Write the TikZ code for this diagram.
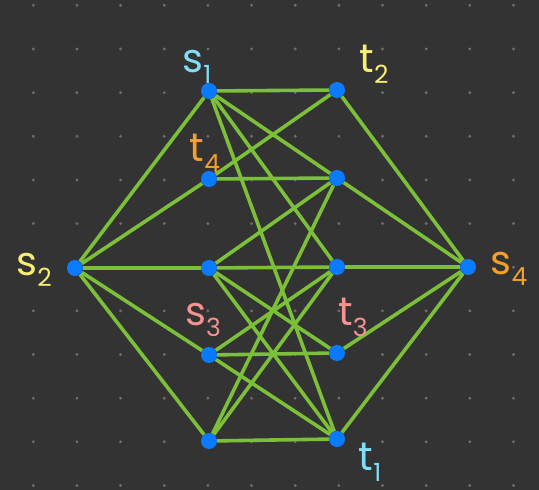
\documentclass[tikz,border=0pt]{standalone}
\usepackage{fontspec}
\setmainfont{Poppins}
\usepackage{tikz}
\usetikzlibrary{positioning}

\definecolor{bgdark}{HTML}{333333}
\definecolor{griddot}{HTML}{6E6E6E}
\definecolor{edgegreen}{HTML}{7CC03A}
\definecolor{vertblue}{HTML}{0A7BFF}
\definecolor{lblcyan}{HTML}{80DDF5}
\definecolor{lblyellow}{HTML}{F6EE72}
\definecolor{lblorange}{HTML}{F5A025}
\definecolor{lblpink}{HTML}{F59292}

% letter with a lowered index
\newcommand\lab[2]{#1\raisebox{-0.28em}{\fontsize{25}{25}\selectfont #2}}

\begin{document}
\begin{tikzpicture}[x=1pt,y=-1pt,
    vert/.style={circle,fill=vertblue,inner sep=0pt,minimum size=16pt},
    edge/.style={draw=edgegreen,line width=3.6pt},
    lbl/.style={inner sep=0pt,font=\fontsize{40}{40}\selectfont}]
  % dark canvas with dotted grid
  \fill[bgdark] (0,0) rectangle (539,490);
  \foreach \i in {0,...,11}
    \foreach \j in {0,...,11}
      \fill[griddot] (33.3+43.65*\i, 5.3+43.65*\j) circle (1.6);
  % vertices
  \node[vert] (s1) at (209,91)  {};
  \node[vert] (t2) at (337,90)  {};
  \node[vert] (t4) at (209,179) {};
  \node[vert] (u1) at (337,178) {};
  \node[vert] (s2) at (75,268)  {};
  \node[vert] (u2) at (209,268) {};
  \node[vert] (u3) at (337,267) {};
  \node[vert] (s4) at (468,267) {};
  \node[vert] (s3) at (209,355) {};
  \node[vert] (t3) at (337,353) {};
  \node[vert] (u4) at (209,441) {};
  \node[vert] (t1) at (337,439) {};
  % edges
  \foreach \a/\b in {s2/s1,s2/t4,s2/u2,s2/s3,s2/u4,
                     s1/t2,s1/u1,s1/u3,s1/t1,
                     t2/t4,t2/s4,t4/u1,
                     u1/u2,u1/s4,u1/u4,
                     u2/u3,u2/t3,u2/t1,
                     u3/s4,u3/s3,u3/u4,
                     s3/t3,s3/t1,t3/s4,
                     u4/t1,t1/s4}
    \draw[edge] (\a) -- (\b);
  % terminal labels
  \node[lbl,text=lblcyan]   (ls1) at (197,67)  {\lab{s}{1}};
  \node[lbl,text=lblyellow] (lt2) at (374,64)  {\lab{t}{2}};
  \node[lbl,text=lblorange] (lt4) at (205,153) {\lab{t}{4}};
  \node[lbl,text=lblyellow] (ls2) at (34,270)  {\lab{s}{2}};
  \node[lbl,text=lblorange] (ls4) at (509,269) {\lab{s}{4}};
  \node[lbl,text=lblpink]   (ls3) at (203,320) {\lab{s}{3}};
  \node[lbl,text=lblpink]   (lt3) at (353,317) {\lab{t}{3}};
  \node[lbl,text=lblcyan]   (lt1) at (370,462) {\lab{t}{1}};
\end{tikzpicture}
\end{document}
